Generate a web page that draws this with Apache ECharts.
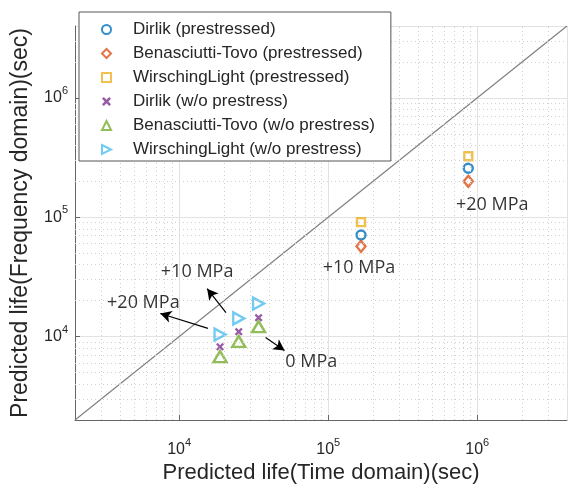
<!DOCTYPE html>
<html><head><meta charset="utf-8">
<script src="https://cdn.jsdelivr.net/npm/echarts@6/dist/echarts.min.js"></script>
<style>html,body{margin:0;padding:0;background:#fff}#c{width:568px;height:491px}</style>
</head><body><div id="c"></div><script>
// ---- data ----
const seriesNames = [
  'Dirlik (prestressed)',
  'Benasciutti-Tovo (prestressed)',
  'WirschingLight (prestressed)',
  'Dirlik (w/o prestress)',
  'Benasciutti-Tovo (w/o prestress)',
  'WirschingLight (w/o prestress)'
];
// prestressed cases (+10 MPa, +20 MPa)
const xPre = [1.66e5, 8.7e5];
const dirlikPre = [7.1e4, 2.57e5];
const btPre = [5.7e4, 2.0e5];
const wlPre = [9.1e4, 3.24e5];
// without prestress
const xWo = [1.88e4, 2.51e4, 3.41e4];
const dirlikWo = [8.2e3, 1.10e4, 1.44e4];
const btWo = [6.8e3, 9.1e3, 1.21e4];
const wlWo = [1.04e4, 1.42e4, 1.89e4];
// reference line y = x
const diagX = [2000, 4e6];
// axis
const axisMin = 2000, axisMax = 4e6;
const minorValues = [3000,4000,5000,6000,7000,8000,9000,
  2e4,3e4,4e4,5e4,6e4,7e4,8e4,9e4,
  2e5,3e5,4e5,5e5,6e5,7e5,8e5,9e5,
  2e6,3e6];
// annotations: arrows [from, to] and text labels
const arrows = [
  [[1.56e4, 1.17e4], [7.47e3, 1.56e4]],
  [[2.06e4, 1.59e4], [1.54e4, 2.52e4]],
  [[3.80e4, 9.81e3], [5.09e4, 7.64e3]]
];
const noteTexts = ['+20 MPa', '+10 MPa', '0 MPa', '+10 MPa', '+20 MPa'];
const noteX = [5.75e3, 1.32e4, 7.7e4, 1.61e5, 1.26e6];
const noteY = [1.93e4, 3.5e4, 6.17e3, 3.77e4, 1.27e5];

const colors = ['#0072BD', '#D95319', '#EDB120', '#7E2F8E', '#77AC30', '#4DBEEE'];
const crossPath = 'path://M0,2 L2,0 L5,3 L8,0 L10,2 L7,5 L10,8 L8,10 L5,7 L2,10 L0,8 L3,5 Z';
const rightTri = 'path://M0,0 L10,5 L0,10 Z';

const zip = (xs, ys) => xs.map((x, i) => [x, ys[i]]);
const FONT = 'Liberation Sans';

function hollow(name, data, symbol, size, color) {
  return {
    name, type: 'scatter', data, symbol, symbolSize: size, z: 4,
    itemStyle: { color: 'rgba(255,255,255,0)', borderColor: color, borderWidth: 2.4 }
  };
}

function logLabel(v) {
  const e = Math.log10(v);
  if (Math.abs(e - Math.round(e)) > 1e-6) return '';
  return '{b|10}{s|' + Math.round(e) + '}';
}
const labelRich = {
  b: { fontSize: 16, fontFamily: FONT, color: '#262626' },
  s: { fontSize: 11, fontFamily: FONT, color: '#262626', padding: [0, 0, 14, 0] }
};

const gridMarks = [];
minorValues.forEach(v => { gridMarks.push({ xAxis: v }); gridMarks.push({ yAxis: v }); });
arrows.forEach(a => {
  gridMarks.push([
    { coord: a[0], symbol: 'none', lineStyle: { color: '#000', width: 1.2, type: 'solid' } },
    { coord: a[1], symbol: 'arrow', symbolSize: [9, 11] }
  ]);
});

const chart = echarts.init(document.getElementById('c'));
chart.setOption({
  animation: false,
  grid: { left: 75, right: 1, top: 26, bottom: 71 },
  legend: {
    data: seriesNames, orient: 'vertical', left: 79, top: 12,
    itemWidth: 9, itemHeight: 9, itemGap: 7,
    padding: [9, 16, 3, 22],
    backgroundColor: '#fff', borderColor: '#555', borderWidth: 1, borderRadius: 0,
    itemStyle: { borderWidth: 2 },
    textStyle: { fontFamily: FONT, fontSize: 17, lineHeight: 16, color: '#262626', padding: [0, 0, 0, 17] },
    z: 10
  },
  xAxis: {
    type: 'log', logBase: 10, min: axisMin, max: axisMax,
    name: 'Predicted life(Time domain)(sec)', nameLocation: 'middle', nameGap: 42,
    nameTextStyle: { fontFamily: FONT, fontSize: 22, color: '#262626' },
    axisLine: { lineStyle: { color: '#666' } },
    axisTick: { inside: true, length: 5, lineStyle: { color: '#666' } },
    splitLine: { show: true, lineStyle: { color: '#e2e2e2' } },
    axisLabel: { showMinLabel: false, showMaxLabel: false, margin: 17, formatter: logLabel, rich: labelRich }
  },
  yAxis: {
    type: 'log', logBase: 10, min: axisMin, max: axisMax,
    name: 'Predicted life(Frequency domain)(sec)', nameLocation: 'middle', nameGap: 43,
    nameTextStyle: { fontFamily: FONT, fontSize: 23, color: '#262626' },
    axisLine: { lineStyle: { color: '#666' } },
    axisTick: { inside: true, length: 5, lineStyle: { color: '#666' } },
    splitLine: { show: true, lineStyle: { color: '#e2e2e2' } },
    axisLabel: { showMinLabel: false, showMaxLabel: false, margin: 7, formatter: logLabel, rich: labelRich }
  },
  series: [
    {
      name: 'diag', type: 'line', data: zip(diagX, diagX), symbol: 'none', silent: true, z: 1,
      lineStyle: { color: '#808080', width: 1.2 },
      markLine: {
        silent: true, symbol: 'none', animation: false,
        label: { show: false },
        lineStyle: { color: '#d0d0d0', width: 1, type: [1, 3] },
        data: gridMarks
      }
    },
    hollow(seriesNames[0], zip(xPre, dirlikPre), 'circle', 9, colors[0]),
    hollow(seriesNames[1], zip(xPre, btPre), 'diamond', [9, 11], colors[1]),
    hollow(seriesNames[2], zip(xPre, wlPre), 'rect', 8, colors[2]),
    {
      name: seriesNames[3], type: 'scatter', data: zip(xWo, dirlikWo), symbol: crossPath, symbolSize: 8, z: 4,
      itemStyle: { color: colors[3] }
    },
    hollow(seriesNames[4], zip(xWo, btWo), 'triangle', [13, 11], colors[4]),
    hollow(seriesNames[5], zip(xWo, wlWo), rightTri, [11, 12], colors[5]),
    {
      name: 'notes', type: 'scatter', silent: true, z: 5, symbolSize: 1,
      itemStyle: { color: 'rgba(0,0,0,0)' },
      data: noteTexts.map((t, i) => ({ name: t, value: [noteX[i], noteY[i]] })),
      label: { show: true, position: 'inside', formatter: '{b}', fontFamily: 'Open Sans', fontSize: 18, color: '#000' }
    }
  ]
});
</script></body></html>
